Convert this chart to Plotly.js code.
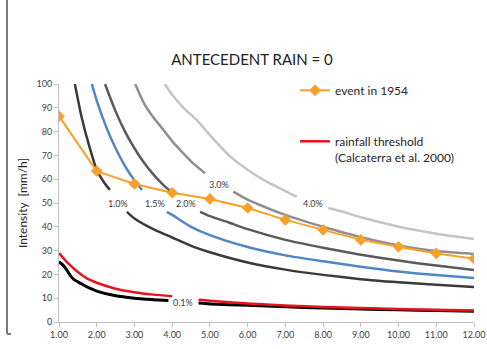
<!DOCTYPE html>
<html>
<head>
<meta charset="utf-8">
<script src="https://cdn.plot.ly/plotly-3.0.1.min.js"></script>
<style>html,body{margin:0;padding:0;background:#fff;}#chart{width:487px;height:349px;}</style>
</head>
<body>
<div id="chart"></div>
<script>
// Event in 1954 (orange)
const eventX = [1, 2, 3, 4, 5, 6, 7, 8, 9, 10, 11, 12];
const eventY = [86.5, 63.4, 58.0, 54.3, 51.7, 47.9, 42.9, 38.7, 34.5, 31.6, 28.8, 26.6];

// Rainfall threshold (Calcaterra et al. 2000) (red)
const threshX = [1, 1.25, 1.5, 1.75, 2, 2.5, 3, 3.5, 4, null, 4.7, 5, 6, 7, 8, 9, 10, 11, 12];
const threshY = [29, 24.5, 21, 18.2, 16.5, 14, 12.5, 11.5, 10.8, null, 9.3, 8.9, 7.8, 6.9, 6.3, 5.9, 5.5, 5.1, 4.8];

// 0.1% curve (black)
const p01X = [1, 1.1, 1.2, 1.3, 1.4, 1.6, 1.8, 2, 2.5, 3, 3.5, 3.9, null, 4.7, 5, 6, 7, 8, 9, 10, 11, 12];
const p01Y = [25.3, 24, 22, 19.5, 17.8, 16, 14.3, 13, 11, 10, 9.4, 9, null, 8, 7.6, 7, 6.4, 5.9, 5.5, 5.1, 4.8, 4.5];

// 1.0% curve
const p10X = [1.42, 1.6, 1.8, 2.0, 2.2, 2.35, null, 2.8, 3, 3.5, 4, 4.5, 5, 6, 7, 8, 9, 10, 11, 12];
const p10Y = [100, 86, 74, 64, 58.5, 55.5, null, 46.3, 43.5, 39, 35.5, 32, 29.3, 25, 22, 19.8, 18, 16.7, 15.6, 14.7];

// 1.5% curve (blue)
const p15X = [1.87, 2, 2.25, 2.5, 2.75, 3, 3.2, null, 3.86, 4, 4.5, 5, 6, 7, 8, 9, 10, 11, 12];
const p15Y = [100, 93, 82, 73, 65.5, 59.5, 55.5, null, 46.3, 45, 40, 36.5, 31.5, 28, 25.5, 23.2, 21.2, 19.7, 18.5];

// 2.0% curve
const p20X = [2.22, 2.5, 2.75, 3, 3.25, 3.5, 3.75, 4.0, null, 4.74, 5, 5.5, 6, 7, 8, 9, 10, 11, 12];
const p20Y = [100, 88.5, 80, 73, 67, 62, 57.8, 54.3, null, 46.3, 44.5, 41.8, 39, 34.5, 31.2, 28.3, 25.8, 23.7, 21.8];

// 3.0% curve
const p30X = [3.02, 3.25, 3.5, 3.77, 4, 4.21, 4.5, 4.87, null, 5.62, 6, 6.5, 7, 7.5, 8, 9, 10, 11, 12];
const p30Y = [100, 92, 86, 80.7, 76, 72.3, 67.5, 62.5, null, 54.8, 51.4, 48, 45, 42.4, 40, 35.6, 32.2, 29.8, 28.6];

// 4.0% curve
const p40X = [3.8, 4, 4.3, 4.65, 5, 5.54, 6, 6.42, 7, 7.3, null, 8.14, 8.5, 9, 9.5, 10, 10.5, 11, 11.5, 12];
const p40Y = [100, 95.5, 90, 84.9, 78.5, 69.5, 64, 59.7, 55, 52.6, null, 47.9, 46.4, 44, 42, 40, 38.5, 37.1, 35.9, 34.9];

// Curve labels
const labelText = ["0.1%", "1.0%", "1.5%", "2.0%", "3.0%", "4.0%"];
const labelX = [4.29, 2.56, 3.55, 4.37, 5.24, 7.74];
const labelY = [8.4, 49.6, 49.6, 49.6, 57.6, 49.6];

const xTicks = [1, 2, 3, 4, 5, 6, 7, 8, 9, 10, 11, 12];
const yTicks = [0, 10, 20, 30, 40, 50, 60, 70, 80, 90, 100];

const FONT = "Lato, 'Open Sans', sans-serif";

function curve(x, y, color, w) {
  return {x: x, y: y, type: 'scatter', mode: 'lines', connectgaps: false,
    line: {color: color, width: w || 2.5, shape: 'spline', smoothing: 0.6},
    showlegend: false, hoverinfo: 'skip'};
}

const traces = [
  curve(p40X, p40Y, '#c4c4c4'),
  curve(p30X, p30Y, '#8f8f8f'),
  curve(p20X, p20Y, '#5a5a5a'),
  curve(p15X, p15Y, '#4f86c6'),
  curve(p10X, p10Y, '#3a3a3a'),
  curve(p01X, p01Y, '#000000', 3),
  {x: threshX, y: threshY, type: 'scatter', mode: 'lines', name: 'rainfall threshold<br>(Calcaterra et al. 2000)',
   line: {color: '#e8141b', width: 2.5, shape: 'spline', smoothing: 0.6}, legendgroup: 'b', legendrank: 2, connectgaps: false},
  {x: eventX, y: eventY, type: 'scatter', mode: 'lines+markers', name: 'event in 1954',
   line: {color: '#f7a02a', width: 2}, marker: {symbol: 'diamond', size: 9, color: '#f7a02a'}, legendgroup: 'a', legendrank: 1}
];

const annotations = labelText.map((t, i) => ({
  x: labelX[i], y: labelY[i], xref: 'x', yref: 'y', text: t, showarrow: false,
  font: {family: FONT, size: 9, color: '#3a3a3a'}, xanchor: 'center', yanchor: 'middle'
}));

const layout = {
  width: 487, height: 349,
  margin: {l: 59, r: 13, t: 84, b: 27},
  paper_bgcolor: '#ffffff', plot_bgcolor: '#ffffff',
  font: {family: FONT, color: '#404040'},
  title: {text: 'ANTECEDENT RAIN = 0', x: 252 / 487, xanchor: 'center', y: 1 - 60 / 349, yanchor: 'middle',
          font: {family: FONT, size: 15, color: '#222222'}},
  xaxis: {range: [1, 12], tickvals: xTicks, ticktext: xTicks.map(v => v.toFixed(2)),
          showgrid: false, zeroline: false, showline: true, linecolor: '#c0c0c0', linewidth: 1,
          ticks: 'outside', ticklen: 4, tickcolor: '#c0c0c0', tickfont: {family: FONT, size: 9, color: '#404040'},
          fixedrange: true},
  yaxis: {range: [0, 100], tickvals: yTicks, showgrid: false, zeroline: false, showline: true,
          linecolor: '#c0c0c0', linewidth: 1, ticks: 'outside', ticklen: 4, tickcolor: '#c0c0c0',
          tickfont: {family: FONT, size: 9, color: '#404040'},
          title: {text: 'Intensity  [mm/h]', standoff: 6, font: {family: FONT, size: 12, color: '#262626'}},
          fixedrange: true},
  legend: {x: (295 - 59) / 415, xanchor: 'left', y: (322 - 76) / 238, yanchor: 'top',
           bgcolor: 'rgba(0,0,0,0)', font: {family: FONT, size: 12, color: '#262626'},
           tracegroupgap: 32, traceorder: 'grouped', valign: 'top', itemwidth: 30},
  annotations: annotations,
  shapes: [
    {type: 'line', xref: 'paper', yref: 'paper', x0: (7 - 59) / 415, x1: (7 - 59) / 415,
     y0: (322 - 0) / 238, y1: (322 - 334) / 238, line: {color: '#7a7a7a', width: 2}},
    {type: 'line', xref: 'paper', yref: 'paper', x0: (7 - 59) / 415, x1: (11 - 59) / 415,
     y0: (322 - 334) / 238, y1: (322 - 334) / 238, line: {color: '#7a7a7a', width: 2}}
  ]
};

Plotly.newPlot('chart', traces, layout, {displayModeBar: false, staticPlot: true});
</script>
</body>
</html>
